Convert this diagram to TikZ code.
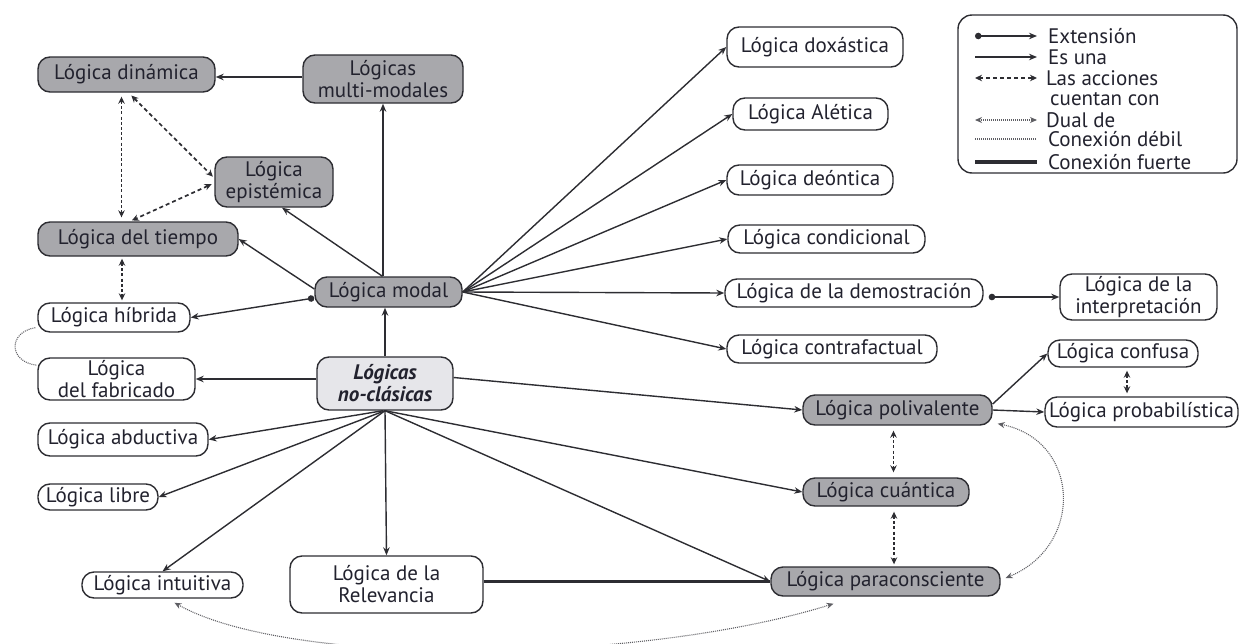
\documentclass[tikz,border=0pt]{standalone}
\usepackage{fontspec}
\setmainfont{PT Sans}
\usetikzlibrary{arrows.meta,calc}
\definecolor{txt}{RGB}{34,34,46}
\definecolor{nodegray}{RGB}{168,168,172}
\definecolor{lightfill}{RGB}{230,230,234}
\definecolor{edgec}{RGB}{45,45,50}
\definecolor{dotc}{RGB}{95,95,100}
\begin{document}
\begin{tikzpicture}[x=1pt,y=-1pt,
  every node/.style={font=\fontsize{21}{22}\selectfont, text=txt, inner sep=0pt, align=center},
  box/.style={draw=edgec, line width=1.4pt, rounded corners=12pt},
  gbox/.style={box, fill=nodegray},
  wbox/.style={box, fill=white},
  sz/.style 2 args={minimum width=#1pt, minimum height=#2pt},
  isa/.style={draw=edgec, line width=1.4pt, -{Stealth[length=8pt,width=6.5pt]}},
  ext/.style={draw=edgec, line width=1.4pt, {Circle[length=6.5pt]}-{Stealth[length=8pt,width=6.5pt]}},
  acc/.style={draw=edgec, line width=1.7pt, dash pattern=on 3pt off 2.2pt, {Stealth[length=7pt,width=6.5pt]}-{Stealth[length=7pt,width=6.5pt]}},
  accd/.style={acc, dash pattern=on 4pt off 3pt},
  dual/.style={draw=dotc, line width=1.1pt, dash pattern=on 1pt off 1pt, {Stealth[length=7pt,width=6pt]}-{Stealth[length=7pt,width=6pt]}},
  weak/.style={draw=dotc, line width=1.1pt, dash pattern=on 1pt off 1pt},
  strong/.style={draw=edgec, line width=3.2pt},
]
\useasboundingbox (0,0) rectangle (1240,643);

% nodes
\node[gbox, sz={177}{35}] (din) at (126.5,74.5) {Lógica dinámica};
\node[gbox, sz={160}{48}] (multi) at (383,79) {Lógicas\\multi-modales};
\node[gbox, sz={118}{50}] (epi) at (274,182) {Lógica\\epistémica};
\node[gbox, sz={200}{34}] (tiempo) at (138,239) {Lógica del tiempo};
\node[gbox, sz={147}{30}] (modal) at (388.5,292) {Lógica modal};
\node[wbox, sz={152}{29}] (hib) at (114,317.5) {Lógica híbrida};
\node[wbox, sz={157}{42}] (fab) at (116.5,379) {Lógica\\del fabricado};
\node[box, fill=lightfill, sz={136}{53}, font=\fontsize{21}{22}\selectfont\bfseries\itshape] (nc) at (385,383.5) {Lógicas\\no-clásicas};
\node[wbox, sz={170}{33}] (abd) at (123,439.5) {Lógica abductiva};
\node[wbox, sz={120}{26}] (libre) at (98,497) {Lógica libre};
\node[wbox, sz={161}{26}] (intu) at (162.5,585) {Lógica intuitiva};
\node[wbox, sz={193}{57}] (rel) at (386.5,584.5) {Lógica de la\\Relevancia};
\node[gbox, sz={229}{29}] (para) at (885.5,581.5) {Lógica paraconsciente};
\node[gbox, sz={166}{28}] (cuan) at (886,492) {Lógica cuántica};
\node[gbox, sz={189}{30}] (poli) at (897.5,410) {Lógica polivalente};
\node[wbox, sz={150}{27}] (conf) at (1123,353.5) {Lógica confusa};
\node[wbox, sz={193}{30}] (prob) at (1141.5,412) {Lógica probabilística};
\node[wbox, sz={258}{28}] (demo) at (854,293) {Lógica de la demostración};
\node[wbox, sz={157}{46}] (interp) at (1138.5,297) {Lógica de la\\interpretación};
\node[wbox, sz={210}{28}] (contra) at (832,349) {Lógica contrafactual};
\node[wbox, sz={176}{40}] (dox) at (815,47) {Lógica doxástica};
\node[wbox, sz={155}{32}] (ale) at (810.5,114) {Lógica Alética};
\node[wbox, sz={166}{30}] (deo) at (810,180) {Lógica deóntica};
\node[wbox, sz={197}{28}] (cond) at (826.5,239) {Lógica condicional};

% legend
\node[draw=edgec, line width=1.4pt, rounded corners=14pt, minimum width=279pt, minimum height=158pt] (leg) at (1097.5,94) {};
\node[anchor=west] (l1) at (1048,36) {Extensión};
\node[anchor=west] (l2) at (1048,57) {Es una};
\node[anchor=west] (l3) at (1046,78) {Las acciones};
\node[anchor=west] (l4) at (1050,99) {cuentan con};
\node[anchor=west] (l5) at (1046,120) {Dual de};
\node[anchor=west] (l6) at (1048,139) {Conexión débil};
\node[anchor=west] (l7) at (1048,162) {Conexión fuerte};
\draw[ext] ([xshift=-73pt]l1.west) -- ([xshift=-11pt]l1.west);
\draw[isa] ([xshift=-73pt]l2.west) -- ([xshift=-11pt]l2.west);
\draw[accd] ([xshift=-71pt]l3.west) -- ([xshift=-9pt]l3.west);
\draw[dual] ([xshift=-71pt]l5.west) -- ([xshift=-9pt]l5.west);
\draw[weak] ([xshift=-73pt]l6.west) -- ([xshift=-11pt]l6.west);
\draw[strong] ([xshift=-73pt]l7.west) -- ([xshift=-11pt]l7.west);

% modal cluster
\draw[isa] ([yshift=2pt]multi.west) -- ([yshift=-2.5pt]din.east);
\draw[isa] (multi.south |- modal.north) -- (multi.south);
\draw[isa] ([xshift=-6pt]modal.north) -- ([xshift=8pt]epi.south);
\draw[isa] ([yshift=3pt]modal.west) -- (tiempo.east);
\draw[ext] ([yshift=-6pt]modal.west) -- (hib.east);
\draw[acc, shorten <=4pt, shorten >=4pt] ([xshift=-5pt]din.south) -- ([xshift=-5pt]din.south |- tiempo.north);
\draw[accd, shorten <=4pt, shorten >=2pt] ([xshift=2pt]din.south) -- ([yshift=4pt]epi.west);
\draw[accd, shorten <=3pt, shorten >=2pt] ([yshift=-1pt]epi.west) -- ([xshift=-8pt]tiempo.north);
\draw[acc, shorten <=2pt, shorten >=2pt] ([xshift=-16pt]tiempo.south) -- ([xshift=-16pt]tiempo.south |- hib.north);
\draw[weak] ([xshift=-2pt,yshift=5pt]hib.south west) .. controls (8,332) and (8,362) .. ([yshift=-8pt]fab.north west);

% from no-clasicas
\draw[isa] (nc.north) -- (nc.north |- modal.south);
\draw[isa] (nc.west |- fab.east) -- (fab.east);
\draw[isa] ([xshift=-2pt]nc.south) -- (abd.east);
\draw[isa] (nc.south) -- (libre.east);
\draw[isa] (nc.south) -- (intu.north);
\draw[isa] (nc.south) -- (rel.north);
\draw[isa] ([yshift=6pt]nc.east) -- (poli.west);
\draw[isa] (nc.south) -- (cuan.west);
\draw[isa] (nc.south) -- (para.west);
\draw[strong] (rel.east |- para.west) -- (para.west);

% from modal to the right
\draw[isa] (modal.east) -- (dox.west);
\draw[isa] (modal.east) -- (ale.west);
\draw[isa] (modal.east) -- (deo.west);
\draw[isa] (modal.east) -- (cond.west);
\draw[isa] (modal.east) -- (demo.west);
\draw[isa] (modal.east) -- (contra.west);
\draw[ext, shorten <=5pt] (demo.east |- interp.west) -- (interp.west);

% polivalente cluster
\draw[isa] ([yshift=6pt]poli.east) -- (conf.west);
\draw[isa] (poli.east) -- (prob.west);
\draw[acc, shorten <=3pt, shorten >=3pt] ([xshift=4pt]conf.south) -- ([xshift=4pt]conf.south |- prob.north);
\draw[acc, shorten <=5pt, shorten >=5pt] ([xshift=-4pt]poli.south) -- ([xshift=-4pt]poli.south |- cuan.north);
\draw[acc, shorten <=5pt, shorten >=2pt] ([xshift=8pt]cuan.south) -- ([xshift=8pt]cuan.south |- para.north);
\draw[dual] ([xshift=5pt,yshift=2pt]poli.south east) .. controls (1080,440) and (1085,545) .. ([xshift=5pt,yshift=3.5pt]para.east);
\draw[dual] ([xshift=12pt,yshift=-4pt]intu.south) .. controls (290,668) and (640,664) .. ([xshift=-52pt,yshift=-7pt]para.south);
\end{tikzpicture}
\end{document}
